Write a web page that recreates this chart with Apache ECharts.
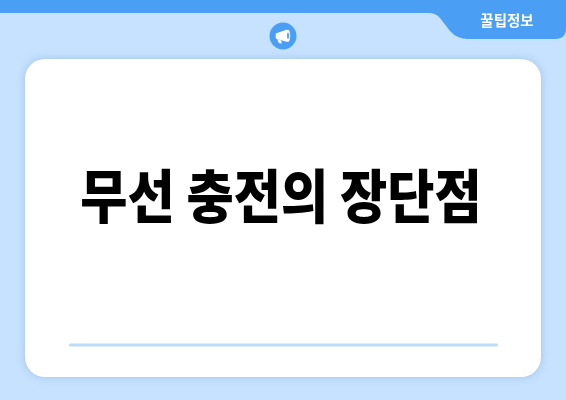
<!DOCTYPE html>
<html>
<head>
<meta charset="utf-8">
<style>html,body{margin:0;padding:0;background:#c7e2ff}#c{width:566px;height:400px}</style>
<script src="https://cdn.jsdelivr.net/npm/echarts@6/dist/echarts.min.js"></script>
</head>
<body>
<div id="c"></div>
<script>
const titleText = "무선 충전의 장단점";
const tabText = "꿀팁정보";
const colors = { bg: "#c7e2ff", blue: "#4a9ff5", rule: "#bcdcfa", ink: "#000000" };
const font = '"Noto Sans CJK KR"';
const chart = echarts.init(document.getElementById('c'), null, { renderer: 'canvas' });
function scene() {
  return { type: 'group', children: [
    { type: 'path', shape: { pathData: 'M0 0H566V28Q566 39 555 39H468Q457 39 450 31L440 18Q436 13 428 13H0Z', x: 0, y: 0, width: 566, height: 39 },
      style: { fill: colors.blue } },
    { type: 'text', x: 507, y: 20,
      style: { text: tabText, fill: '#fff', font: '700 14.5px ' + font, align: 'center', verticalAlign: 'middle' } },
    { type: 'circle', shape: { cx: 283, cy: 36, r: 13.5 }, style: { fill: colors.blue } },
    { type: 'path', shape: { pathData: 'M275.5 33.5L287 29.5V42L275.5 38.5Z M277 39L281 40.5 L281.5 43.5 L278.5 43Z', x: 275.5, y: 29.5, width: 12, height: 14 },
      style: { fill: '#fff' } },
    { type: 'path', shape: { pathData: 'M288 29.5C291 29.5 291 42 288 42C285 42 285 29.5 288 29.5Z', x: 285.8, y: 29.5, width: 4.4, height: 12.5 },
      style: { fill: '#fff' } },
    { type: 'path', shape: { pathData: 'M288 32.5C289.3 32.5 289.3 39 288 39C286.7 39 286.7 32.5 288 32.5Z', x: 287, y: 32.5, width: 2, height: 6.5 },
      style: { fill: colors.blue } },
    { type: 'rect', shape: { x: 25, y: 59, width: 516, height: 318, r: 20 },
      style: { fill: '#fff', shadowBlur: 8, shadowColor: 'rgba(70,120,180,0.3)' } },
    { type: 'rect', shape: { x: 69, y: 343.5, width: 429, height: 3, r: 1.5 }, style: { fill: colors.rule } },
    { type: 'text', x: 281, y: 196, scaleX: 0.885, scaleY: 1,
      style: { text: titleText, fill: colors.ink, font: '900 58px ' + font, align: 'center', verticalAlign: 'middle' } }
  ] };
}
chart.setOption({
  animation: false,
  backgroundColor: colors.bg,
  series: [{ type: 'custom', coordinateSystem: 'none', silent: true, data: [[0]], renderItem: scene }]
});
</script>
</body>
</html>
